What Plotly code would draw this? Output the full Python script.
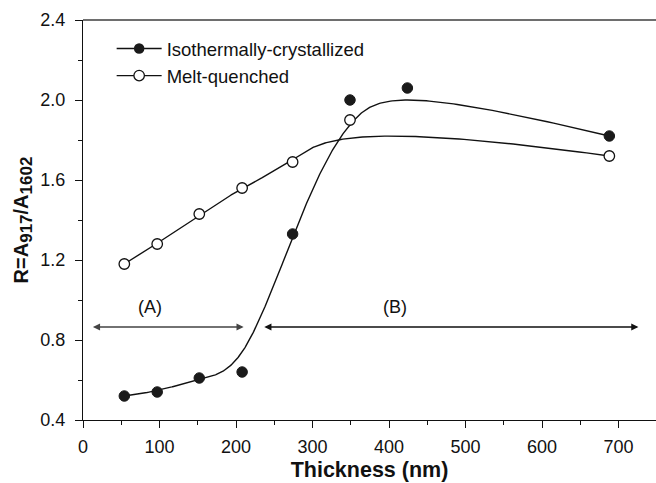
import numpy as np
import plotly.graph_objects as go

# ---- data ----
thickness_iso = [54, 97, 152, 208, 274, 349, 424, 688]
ratio_iso = [0.52, 0.54, 0.61, 0.64, 1.33, 2.00, 2.06, 1.82]
thickness_mq = [54, 97, 152, 208, 274, 349, 688]
ratio_mq = [1.18, 1.28, 1.43, 1.56, 1.69, 1.90, 1.72]
series_names = ["Isothermally-crystallized", "Melt-quenched"]
x_ticks = [0, 100, 200, 300, 400, 500, 600, 700]
y_ticks = [0.4, 0.8, 1.2, 1.6, 2.0, 2.4]
region_labels = ["(A)", "(B)"]
region_A = (11, 210)
region_B = (235, 726)
region_y = 0.865
label_y = 0.965

FONT = "Arial, Liberation Sans, sans-serif"


def bspline(px, py, n=400, k=3):
    """Clamped cubic B-spline using data points as control points (Origin-style)."""
    px = np.asarray(px, float)
    py = np.asarray(py, float)
    m = len(px)
    knots = np.concatenate([[0] * k, np.arange(m - k + 1), [m - k] * k]).astype(float)
    t = np.linspace(0, m - k, n)
    nb = len(knots) - 1
    N = np.zeros((n, nb))
    for i in range(nb):
        N[:, i] = ((t >= knots[i]) & (t < knots[i + 1])).astype(float)
    last = np.max(np.where(knots[:-1] < knots[1:])[0])
    N[t == knots[-1], :] = 0
    N[t == knots[-1], last] = 1
    for p in range(1, k + 1):
        Nn = np.zeros((n, nb - p))
        for i in range(nb - p):
            d1 = knots[i + p] - knots[i]
            d2 = knots[i + p + 1] - knots[i + 1]
            a = (t - knots[i]) / d1 * N[:, i] if d1 > 0 else 0
            b = (knots[i + p + 1] - t) / d2 * N[:, i + 1] if d2 > 0 else 0
            Nn[:, i] = a + b
        N = Nn
    return N @ px, N @ py


fig = go.Figure()

cx, cy = bspline(thickness_iso, ratio_iso)
fig.add_trace(go.Scatter(x=cx, y=cy, mode="lines", line=dict(color="#111", width=1.4),
                         showlegend=False, hoverinfo="skip"))
cx2, cy2 = bspline(thickness_mq, ratio_mq)
fig.add_trace(go.Scatter(x=cx2, y=cy2, mode="lines", line=dict(color="#111", width=1.4),
                         showlegend=False, hoverinfo="skip"))

fig.add_trace(go.Scatter(x=thickness_iso, y=ratio_iso, mode="markers", name=series_names[0],
                         marker=dict(symbol="circle", size=10.5, color="#1a1a1a",
                                     line=dict(color="#1a1a1a", width=1)),
                         showlegend=False))
fig.add_trace(go.Scatter(x=thickness_mq, y=ratio_mq, mode="markers", name=series_names[1],
                         marker=dict(symbol="circle", size=10.5, color="white",
                                     line=dict(color="#111", width=1.3)),
                         showlegend=False))

# legend entries
fig.add_trace(go.Scatter(x=[None], y=[None], mode="lines+markers", name=series_names[0],
                         line=dict(color="#111", width=1.4),
                         marker=dict(symbol="circle", size=10.5, color="#1a1a1a")))
fig.add_trace(go.Scatter(x=[None], y=[None], mode="lines+markers", name=series_names[1],
                         line=dict(color="#111", width=1.4),
                         marker=dict(symbol="circle", size=10.5, color="white",
                                     line=dict(color="#111", width=1.3))))

# region arrows
for (x0, x1), col in [(region_A, "#444"), (region_B, "#111")]:
    fig.add_annotation(x=x1, y=region_y, ax=x0, ay=region_y, xref="x", yref="y",
                       axref="x", ayref="y", text="", showarrow=True,
                       arrowhead=2, startarrowhead=2, arrowside="end+start",
                       arrowsize=1.1, startarrowsize=1.1, arrowwidth=1.3, arrowcolor=col)
fig.add_annotation(x=88, y=label_y, text=region_labels[0], showarrow=False,
                   font=dict(family=FONT, size=18, color="#111"))
fig.add_annotation(x=408, y=label_y, text=region_labels[1], showarrow=False,
                   font=dict(family=FONT, size=18, color="#111"))

# top frame line
fig.add_shape(type="line", xref="paper", yref="paper", x0=0, x1=1, y0=1, y1=1,
              line=dict(color="#6e6e6e", width=2))

fig.update_layout(
    width=656, height=483,
    margin=dict(l=83, r=0, t=20, b=63),
    paper_bgcolor="white", plot_bgcolor="white",
    font=dict(family=FONT, size=18, color="#111"),
    showlegend=True,
    legend=dict(x=0.05, y=0.975, xanchor="left", yanchor="top",
                font=dict(family=FONT, size=18.5, color="#111"),
                bgcolor="rgba(0,0,0,0)", itemwidth=45, tracegroupgap=0),
    xaxis=dict(range=[0, 749], tickvals=x_ticks, ticks="outside", ticklen=7,
               tickwidth=1.2, tickcolor="#111", showline=True, linecolor="#111",
               linewidth=1.4, showgrid=False, zeroline=False, ticklabelstandoff=3,
               tickfont=dict(family=FONT, size=18, color="#111"),
               minor=dict(dtick=50, ticks="outside", ticklen=4, tickcolor="#111", tickwidth=1.2),
               title=dict(text="<b>Thickness (nm)</b>", font=dict(family=FONT, size=21.5, color="#111"),
                          standoff=6)),
    yaxis=dict(range=[0.4, 2.4], tickvals=y_ticks, tickformat=".1f", ticks="outside", ticklen=7,
               tickwidth=1.2, tickcolor="#111", showline=True, linecolor="#111",
               linewidth=1.4, showgrid=False, zeroline=False, ticklabelstandoff=6,
               tickfont=dict(family=FONT, size=18, color="#111"),
               minor=dict(dtick=0.2, tick0=0.4, ticks="outside", ticklen=4, tickcolor="#111", tickwidth=1.2),
               title=dict(text="<b>R=A<sub><span style='font-size:17px'>917</span></sub>/A<sub><span style='font-size:17px'>1602</span></sub></b>",
                          font=dict(family=FONT, size=20, color="#111"), standoff=6)),
)

fig.write_html("out.html")
